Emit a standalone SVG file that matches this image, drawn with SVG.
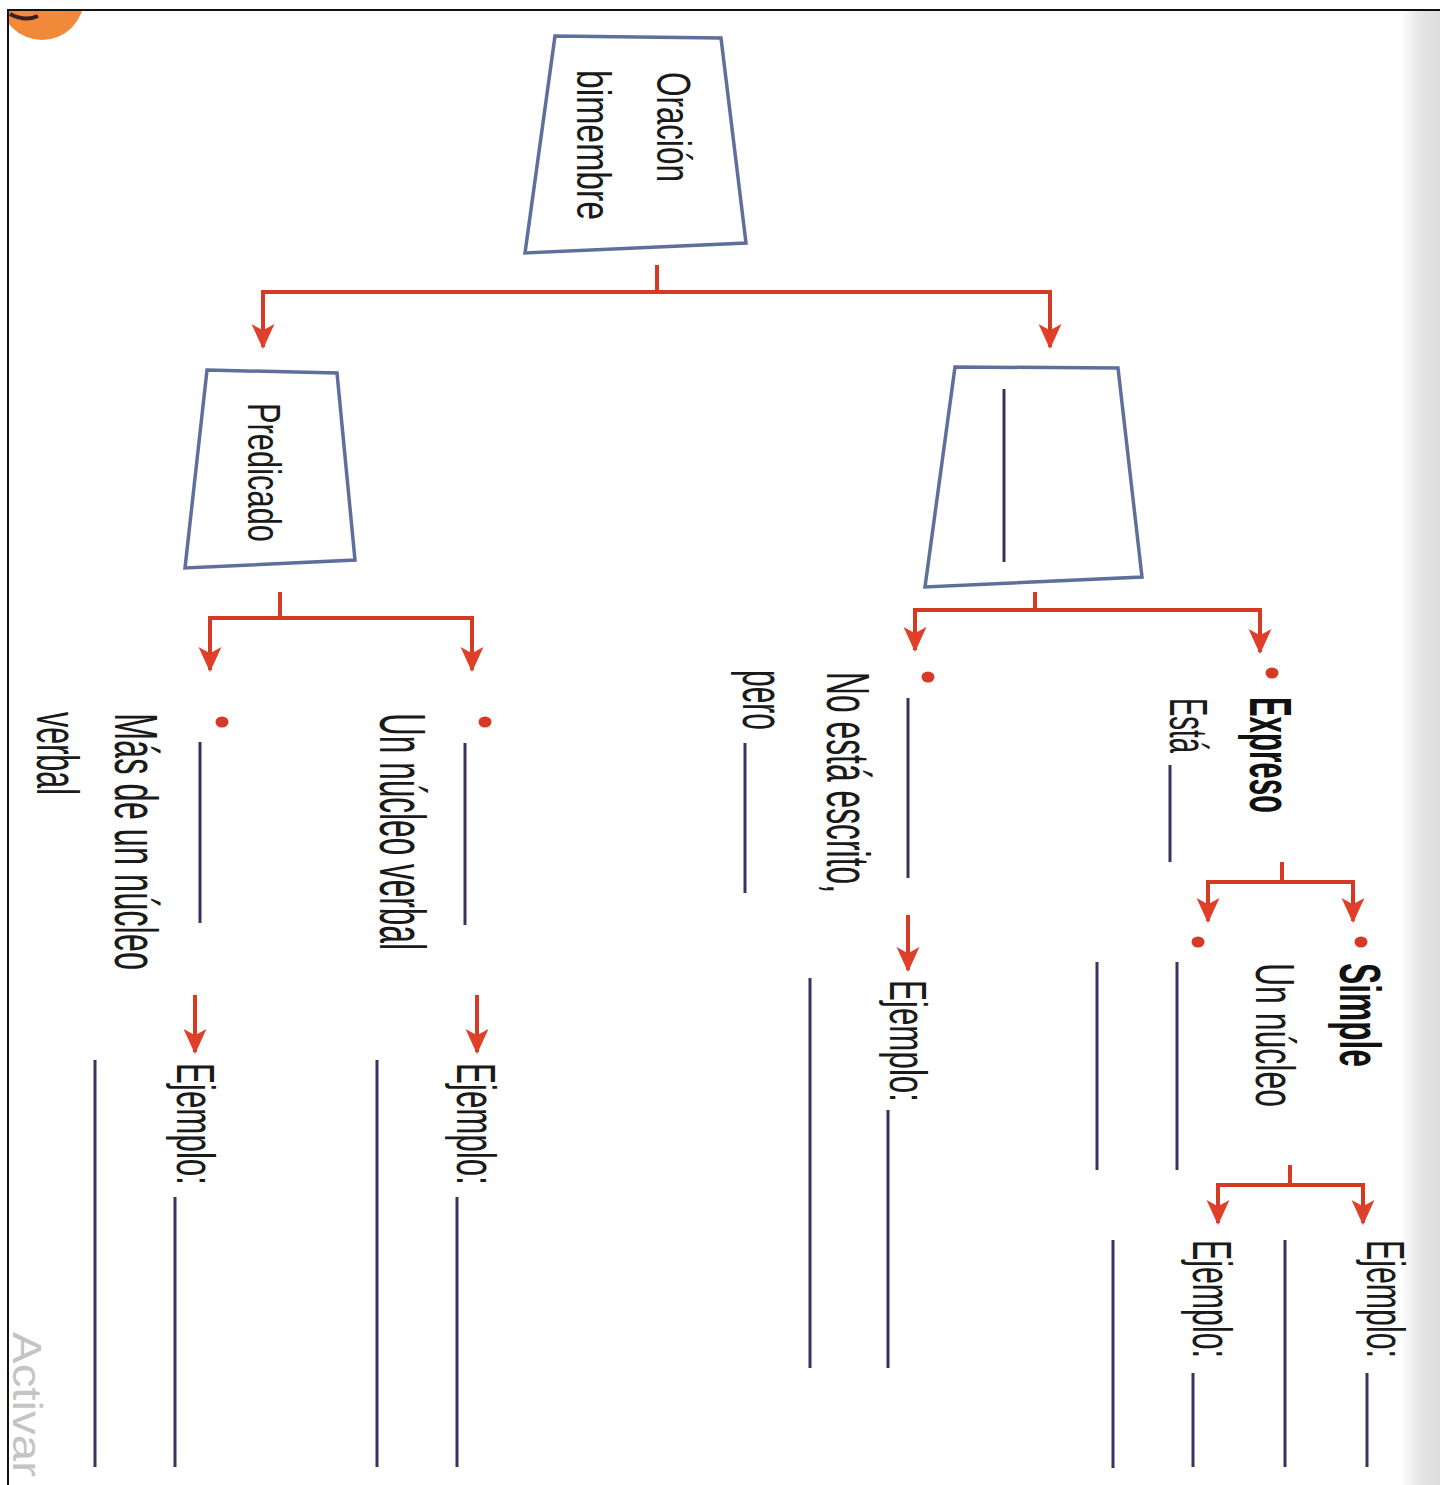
<svg xmlns="http://www.w3.org/2000/svg" width="1440" height="1485" viewBox="0 0 1440 1485">
<style>
.t{font-family:"Liberation Sans",Arial,sans-serif;fill:#1a1a1a}
.b{font-weight:bold;fill:#111}
.trap{fill:#fff;stroke:#5f6f9c;stroke-width:3.5;stroke-linejoin:miter}
.c{fill:none;stroke:#d63a25;stroke-width:4}
.a{fill:none;stroke:#d63a25;stroke-width:4;marker-end:url(#ah)}
.ln{stroke:#3d2f5e;stroke-width:3;fill:none}
.dot{fill:#d43a25}
</style>
<defs>
<marker id="ah" viewBox="0 0 24 24" markerWidth="25" markerHeight="25" refX="22" refY="12" orient="auto" markerUnits="userSpaceOnUse">
<path d="M0,1 L24,12 L0,23 L6,12 z" fill="#e0402a"/>
</marker>
<linearGradient id="edge" x1="0" y1="0" x2="1" y2="0">
<stop offset="0" stop-color="#ffffff"/>
<stop offset="0.5" stop-color="#e6e6e6"/>
<stop offset="1" stop-color="#dcdcdc"/>
</linearGradient>
<clipPath id="pg"><rect x="9" y="11" width="1431" height="1474"/></clipPath>
</defs>
<rect width="1440" height="1485" fill="#fff"/>
<rect x="1400" y="11" width="40" height="1474" fill="url(#edge)"/>
<g clip-path="url(#pg)">
<ellipse cx="42" cy="-2" rx="42" ry="42" fill="#f08a3a"/>
<path d="M10,14 Q25,22 38,16" stroke="#3a2020" stroke-width="4" fill="none"/>
</g>
<text class="t" transform="translate(13,1332) rotate(90)" font-size="40" style="fill:#c4c4c4" textLength="145" lengthAdjust="spacingAndGlyphs">Activar</text>
<path d="M8,1485 V10 H1440" fill="none" stroke="#111" stroke-width="2"/>

<g id="n-oracion">
<polygon class="trap" points="555,36 721,38 746,243 525,253"/>
<text class="t" transform="translate(657,72) rotate(90)" font-size="48" textLength="110" lengthAdjust="spacingAndGlyphs">Oración</text>
<text class="t" transform="translate(577,70) rotate(90)" font-size="48" textLength="150" lengthAdjust="spacingAndGlyphs">bimembre</text>
</g>

<g id="n-predicado">
<polygon class="trap" points="207,370 337,373 355,560 185,568"/>
<text class="t" transform="translate(248,403) rotate(90)" font-size="46" textLength="139" lengthAdjust="spacingAndGlyphs">Predicado</text>
</g>

<g id="n-sujeto">
<polygon class="trap" points="955,367 1118,368 1142,577 925,587"/>
<line class="ln" x1="1004" y1="389" x2="1004" y2="562"/>
</g>

<g id="n-expreso">
<ellipse class="dot" cx="1272" cy="673" rx="6.5" ry="5.5"/>
<text class="t b" transform="translate(1250,697) rotate(90)" font-size="60" textLength="116" lengthAdjust="spacingAndGlyphs">Expreso</text>
<text class="t" transform="translate(1170,698) rotate(90)" font-size="54" textLength="55" lengthAdjust="spacingAndGlyphs">Está</text>
<line class="ln" x1="1170" y1="765" x2="1170" y2="862"/>
</g>

<g id="n-simple">
<ellipse class="dot" cx="1361" cy="942" rx="6.5" ry="5.5"/>
<text class="t b" transform="translate(1340,963) rotate(90)" font-size="58" textLength="104" lengthAdjust="spacingAndGlyphs">Simple</text>
<text class="t" transform="translate(1256,963) rotate(90)" font-size="56" textLength="144" lengthAdjust="spacingAndGlyphs">Un núcleo</text>
</g>

<g id="n-compuesto">
<ellipse class="dot" cx="1198" cy="942" rx="6.5" ry="5.5"/>
<line class="ln" x1="1177" y1="962" x2="1177" y2="1170"/>
<line class="ln" x1="1097" y1="962" x2="1097" y2="1170"/>
</g>

<g id="n-ej-simple">
<text class="t" transform="translate(1367,1240) rotate(90)" font-size="54" textLength="118" lengthAdjust="spacingAndGlyphs">Ejemplo:</text>
<line class="ln" x1="1367" y1="1373" x2="1367" y2="1467"/>
<line class="ln" x1="1285" y1="1240" x2="1285" y2="1467"/>
</g>

<g id="n-ej-compuesto">
<text class="t" transform="translate(1193,1240) rotate(90)" font-size="56" textLength="118" lengthAdjust="spacingAndGlyphs">Ejemplo:</text>
<line class="ln" x1="1193" y1="1373" x2="1193" y2="1467"/>
<line class="ln" x1="1113" y1="1240" x2="1113" y2="1468"/>
</g>

<g id="n-tacito">
<ellipse class="dot" cx="928" cy="677" rx="6.5" ry="5.5"/>
<line class="ln" x1="908" y1="698" x2="908" y2="878"/>
<text class="t" transform="translate(827,672) rotate(90)" font-size="62" textLength="221" lengthAdjust="spacingAndGlyphs">No está escrito,</text>
<text class="t" transform="translate(743,670) rotate(90)" font-size="60" textLength="60" lengthAdjust="spacingAndGlyphs">pero</text>
<line class="ln" x1="745" y1="743" x2="745" y2="893"/>
</g>

<g id="n-ej-tacito">
<text class="t" transform="translate(890,980) rotate(90)" font-size="52" textLength="122" lengthAdjust="spacingAndGlyphs">Ejemplo:</text>
<line class="ln" x1="888" y1="1110" x2="888" y2="1368"/>
<line class="ln" x1="810" y1="978" x2="810" y2="1368"/>
</g>

<g id="n-pred-simple">
<ellipse class="dot" cx="485" cy="722" rx="6.5" ry="5.5"/>
<line class="ln" x1="465" y1="743" x2="465" y2="925"/>
<text class="t" transform="translate(380,713) rotate(90)" font-size="64" textLength="237" lengthAdjust="spacingAndGlyphs">Un núcleo verbal</text>
</g>

<g id="n-ej-pred-simple">
<text class="t" transform="translate(457,1063) rotate(90)" font-size="56" textLength="122" lengthAdjust="spacingAndGlyphs">Ejemplo:</text>
<line class="ln" x1="457" y1="1197" x2="457" y2="1467"/>
<line class="ln" x1="377" y1="1060" x2="377" y2="1467"/>
</g>

<g id="n-pred-compuesto">
<ellipse class="dot" cx="222" cy="722" rx="6.5" ry="5.5"/>
<line class="ln" x1="200" y1="742" x2="200" y2="923"/>
<text class="t" transform="translate(115,713) rotate(90)" font-size="62" textLength="257" lengthAdjust="spacingAndGlyphs">Más de un núcleo</text>
<text class="t" transform="translate(37,712) rotate(90)" font-size="60" textLength="83" lengthAdjust="spacingAndGlyphs">verbal</text>
</g>

<g id="n-ej-pred-compuesto">
<text class="t" transform="translate(177,1063) rotate(90)" font-size="54" textLength="122" lengthAdjust="spacingAndGlyphs">Ejemplo:</text>
<line class="ln" x1="175" y1="1197" x2="175" y2="1467"/>
<line class="ln" x1="95" y1="1060" x2="95" y2="1467"/>
</g>

<g id="connectors">
<path class="c" d="M657,265 V292 M261,292 H1052"/>
<path class="a" d="M263,292 V347"/>
<path class="a" d="M1050,292 V347"/>
<path class="c" d="M1035,592 V610 M913,610 H1262"/>
<path class="a" d="M915,610 V650"/>
<path class="a" d="M1260,610 V652"/>
<path class="c" d="M280,592 V618 M208,618 H474"/>
<path class="a" d="M210,618 V670"/>
<path class="a" d="M472,618 V670"/>
<path class="c" d="M1282,862 V882 M1206,882 H1355"/>
<path class="a" d="M1208,882 V921"/>
<path class="a" d="M1353,882 V921"/>
<path class="c" d="M1290,1165 V1185 M1216,1185 H1365"/>
<path class="a" d="M1218,1185 V1223"/>
<path class="a" d="M1363,1185 V1223"/>
<path class="a" d="M908,915 V970"/>
<path class="a" d="M195,995 V1052"/>
<path class="a" d="M477,995 V1052"/>
</g>
</svg>
